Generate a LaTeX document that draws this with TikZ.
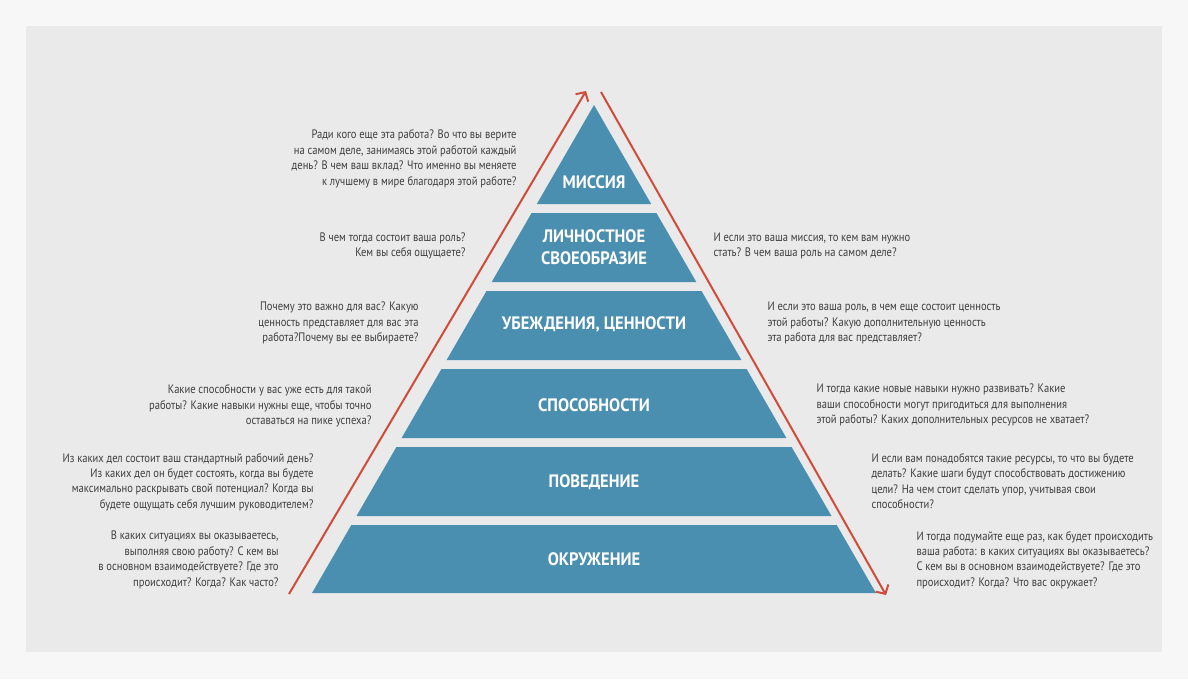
\documentclass[tikz,border=0pt]{standalone}
\usepackage{fontspec}
\setmainfont{PT Sans}[FakeStretch=0.86]
\newfontfamily\tierfont{PT Sans}[FakeStretch=0.92]
\usetikzlibrary{arrows.meta}

\definecolor{pyrblue}{RGB}{74,142,176}
\definecolor{arrred}{RGB}{208,76,58}
\definecolor{txtgray}{RGB}{62,62,62}
\definecolor{panelgray}{RGB}{234,234,234}
\definecolor{outergray}{RGB}{247,247,247}

\tikzset{every picture/.style={line width=0.75pt}}
\tikzset{
  tier/.style={fill=pyrblue, draw=none},
  tiername/.style={text=white, inner sep=0.75pt, align=center,
    font=\tierfont\bfseries\fontsize{13.5}{16.5}\selectfont},
  lefttext/.style={anchor=east, align=right, text=txtgray, inner sep=0.75pt,
    font=\fontsize{9.2}{11.6}\selectfont},
  righttext/.style={anchor=west, align=left, text=txtgray, inner sep=0.75pt,
    font=\fontsize{9.2}{11.6}\selectfont},
  redarrow/.style={draw=arrred, line width=1.5pt, -{Straight Barb[length=5pt,width=11pt]}}
}

\begin{document}
\begin{tikzpicture}[x=0.75pt,y=0.75pt,yscale=-1,xscale=1]
\useasboundingbox (0,0) rectangle (1188,679);

%Background
\fill [outergray] (0,0) rectangle (1188,679);
\fill [panelgray] (26,26) rectangle (1162,652);

%Shape: Triangle [id:mission]
\fill [tier] (594,105) -- (651.2,204) -- (536.8,204) -- cycle ;
%Shape: Trapezoid [id:identity]
\fill [tier] (531.6,213) -- (656.4,213) -- (696.3,282) -- (491.7,282) -- cycle ;
%Shape: Trapezoid [id:values]
\fill [tier] (486.5,291) -- (701.5,291) -- (741.4,360) -- (446.6,360) -- cycle ;
%Shape: Trapezoid [id:abilities]
\fill [tier] (441.4,369) -- (746.6,369) -- (786.4,438) -- (401.6,438) -- cycle ;
%Shape: Trapezoid [id:behaviour]
\fill [tier] (396.4,447) -- (791.6,447) -- (831.5,516) -- (356.5,516) -- cycle ;
%Shape: Trapezoid [id:environment]
\fill [tier] (351.3,525) -- (836.7,525) -- (876,593) -- (312,593) -- cycle ;

%Arrows
\coordinate (upstart) at (289,594);
\coordinate (upend) at (586,91);
\coordinate (downstart) at (601,92);
\coordinate (downend) at (886,595);
\draw [redarrow] (upstart) -- (upend) ;
\draw [redarrow] (downstart) -- (downend) ;

% Tier names
\node [tiername] (tmission) at (594,182) {МИССИЯ};
\node [tiername] (tidentity) at (594,247) {ЛИЧНОСТНОЕ\\СВОЕОБРАЗИЕ};
\node [tiername] (tvalues) at (594,324) {УБЕЖДЕНИЯ, ЦЕННОСТИ};
\node [tiername] (tabilities) at (594,405) {СПОСОБНОСТИ};
\node [tiername] (tbehaviour) at (594,482) {ПОВЕДЕНИЕ};
\node [tiername] (tenvironment) at (594,559) {ОКРУЖЕНИЕ};

% Text Node
\node [lefttext] (lmission) at (518,159) {Ради кого еще эта работа? Во что вы верите\\на самом деле, занимаясь этой работой каждый\\день? В чем ваш вклад? Что именно вы меняете\\к лучшему в мире благодаря этой работе?};
% Text Node
\node [lefttext] (lidentity) at (467,246) {В чем тогда состоит ваша роль?\\Кем вы себя ощущаете?};
% Text Node
\node [lefttext] (lvalues) at (420,323) {Почему это важно для вас? Какую\\ценность представляет для вас эта\\работа?Почему вы ее выбираете?};
% Text Node
\node [lefttext] (labilities) at (373,406) {Какие способности у вас уже есть для такой\\работы? Какие навыки нужны еще, чтобы точно\\оставаться на пике успеха?};
% Text Node
\node [lefttext] (lbehaviour) at (315,482) {Из каких дел состоит ваш стандартный рабочий день?\\Из каких дел он будет состоять, когда вы будете\\максимально раскрывать свой потенциал? Когда вы\\будете ощущать себя лучшим руководителем?};
% Text Node
\node [lefttext] (lenvironment) at (280,560) {В каких ситуациях вы оказываетесь,\\выполняя свою работу? С кем вы\\в основном взаимодействуете? Где это\\происходит? Когда? Как часто?};

% Text Node
\node [righttext] (ridentity) at (712,246) {И если это ваша миссия, то кем вам нужно\\стать? В чем ваша роль на самом деле?};
% Text Node
\node [righttext] (rvalues) at (766,323) {И если это ваша роль, в чем еще состоит ценность\\этой работы? Какую дополнительную ценность\\эта работа для вас представляет?};
% Text Node
\node [righttext] (rabilities) at (815,405) {И тогда какие новые навыки нужно развивать? Какие\\ваши способности могут пригодиться для выполнения\\этой работы? Каких дополнительных ресурсов не хватает?};
% Text Node
\node [righttext] (rbehaviour) at (870,481) {И если вам понадобятся такие ресурсы, то что вы будете\\делать? Какие шаги будут способствовать достижению\\цели? На чем стоит сделать упор, учитывая свои\\способности?};
% Text Node
\node [righttext] (renvironment) at (915,560) {И тогда подумайте еще раз, как будет происходить\\ваша работа: в каких ситуациях вы оказываетесь?\\С кем вы в основном взаимодействуете? Где это\\происходит? Когда? Что вас окружает?};

\end{tikzpicture}
\end{document}
